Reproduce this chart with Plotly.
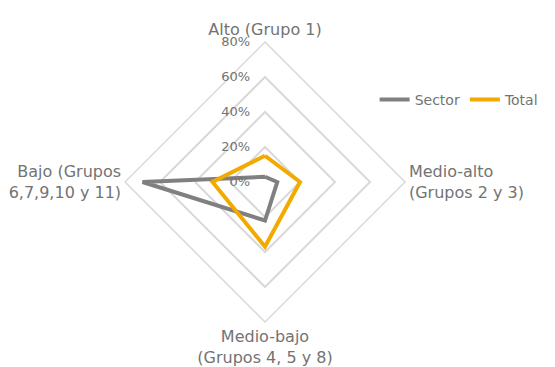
import plotly.graph_objects as go

categories = ["Alto (Grupo 1)", "Medio-alto<br>(Grupos 2 y 3)", "Medio-bajo<br>(Grupos 4, 5 y 8)", "Bajo (Grupos<br>6,7,9,10 y 11)"]
sector = [0.03, 0.07, 0.22, 0.70]
total = [0.15, 0.20, 0.37, 0.30]
tick_vals = [0, 0.2, 0.4, 0.6, 0.8]
tick_text = ["0%", "20%", "40%", "60%", "80%"]

FONT = "DejaVu Sans"
GREY_TXT = "#737373"

# right-align tick labels to the left of the vertical axis (pad with figure/nb spaces)
padded = [("\u2007" * (3 - len(t))) + t + "\u00a0" * 3 for t in tick_text]

fig = go.Figure()
fig.add_trace(go.Scatterpolar(
    r=sector + sector[:1], theta=categories + categories[:1], mode="lines",
    name="Sector", line=dict(color="#808080", width=4), cliponaxis=False))
fig.add_trace(go.Scatterpolar(
    r=total + total[:1], theta=categories + categories[:1], mode="lines",
    name="Total", line=dict(color="#F2AA00", width=4), cliponaxis=False))

W, H = 555, 367
cx, cy, R = 265, 182, 140
fig.update_layout(
    width=W, height=H,
    margin=dict(l=0, r=0, t=0, b=0),
    paper_bgcolor="white", plot_bgcolor="white",
    font=dict(family=FONT, color=GREY_TXT),
    showlegend=True,
    legend=dict(orientation="h", x=0.675, y=(H - 100) / H, xanchor="left", yanchor="middle",
                font=dict(size=14, color=GREY_TXT), bgcolor="rgba(0,0,0,0)",
                itemwidth=30, tracegroupgap=0),
    polar=dict(
        domain=dict(x=[(cx - R) / W, (cx + R) / W], y=[(H - cy - R) / H, (H - cy + R) / H]),
        gridshape="linear",
        bgcolor="white",
        radialaxis=dict(range=[0, 0.8], tickvals=tick_vals, ticktext=padded,
                        angle=90, tickangle=90, side="counterclockwise",
                        showline=False, ticks="",
                        gridcolor="#d9d9d9", gridwidth=1.5,
                        tickfont=dict(size=13, color=GREY_TXT, family=FONT)),
        angularaxis=dict(direction="clockwise", rotation=90, showgrid=False,
                         showline=True, linecolor="#d9d9d9", linewidth=1.5, ticks="",
                         tickfont=dict(size=16, color=GREY_TXT, family=FONT)),
    ),
)
fig.write_html("out.html", config={"displayModeBar": False},
               post_script="document.body.style.margin='0';document.body.style.overflow='hidden';")
